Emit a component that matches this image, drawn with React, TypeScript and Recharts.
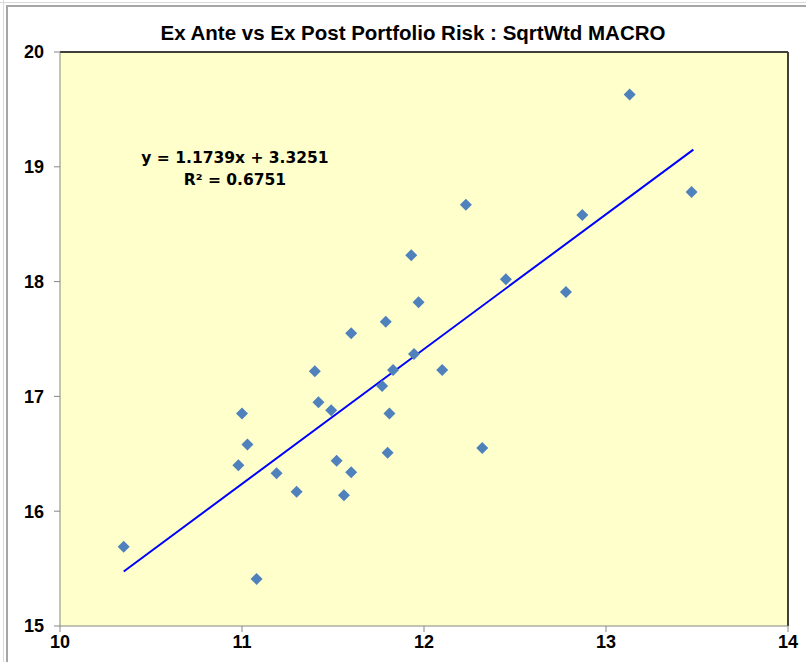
import { ScatterChart, Scatter, XAxis, YAxis, CartesianGrid, ReferenceLine } from "recharts";

// ex ante (x) vs ex post (y) risk
const exAnte = [
  10.35, 11.08, 10.98, 11.0, 11.03, 11.19, 11.3, 11.4, 11.42, 11.49,
  11.52, 11.56, 11.6, 11.6, 11.79, 11.77, 11.81, 11.8, 11.83, 11.93,
  11.945, 11.97, 12.1, 12.23, 12.32, 12.45, 12.78, 12.87, 13.13, 13.47,
];
const exPost = [
  15.69, 15.41, 16.4, 16.85, 16.58, 16.33, 16.17, 17.22, 16.95, 16.88,
  16.44, 16.14, 16.34, 17.55, 17.65, 17.09, 16.85, 16.51, 17.23, 18.23,
  17.37, 17.82, 17.23, 18.67, 16.55, 18.02, 17.91, 18.58, 19.63, 18.78,
];
const xTicks = [10, 11, 12, 13, 14];
const yTicks = [15, 16, 17, 18, 19, 20];
// fitted trend line ends: y = 1.1739x + 3.3251
const trendEnds = [
  { x: 10.35, y: 15.475 },
  { x: 13.48, y: 19.15 },
];

const points = exAnte.map((x, i) => ({ x, y: exPost[i] }));

const Diamond = (props: any) => {
  const { cx, cy } = props;
  const r = 6;
  return (
    <polygon
      points={`${cx},${cy - r} ${cx + r},${cy} ${cx},${cy + r} ${cx - r},${cy}`}
      fill="#4F81BD"
    />
  );
};

const tickStyle = { fontFamily: "Liberation Sans, Arial, sans-serif", fontWeight: 700, fontSize: 18, fill: "#000" };

export default function App() {
  return (
    <div style={{ position: "fixed", left: 0, top: 0, width: 806, height: 662, background: "#fff", overflow: "hidden" }}>
      <div style={{ position: "absolute", left: 0, top: 2, width: 806, height: 0, borderTop: "1px solid #D9D9D9" }} />
      <div style={{ position: "absolute", left: 6, top: 5, width: 800, height: 657, borderTop: "2px solid #A6A6A6", borderLeft: "2px solid #A6A6A6" }} />
      <div style={{ position: "absolute", left: 3, top: 0, width: 0, height: 662, borderLeft: "1px solid #D9D9D9" }} />
      <ScatterChart
        width={806}
        height={662}
        margin={{ top: 52, right: 18, bottom: 0, left: 0 }}
      >
        <CartesianGrid horizontal={false} vertical={false} fill="#FFFFCC" />
        <XAxis
          type="number"
          dataKey="x"
          domain={[10, 14]}
          ticks={xTicks}
          height={36}
          tick={tickStyle}
          tickLine={{ stroke: "#868686" }}
          axisLine={{ stroke: "#868686" }}
          tickSize={6}
          tickMargin={3}
          allowDataOverflow
        />
        <YAxis
          type="number"
          dataKey="y"
          domain={[15, 20]}
          ticks={yTicks}
          width={60}
          tick={tickStyle}
          tickLine={{ stroke: "#868686" }}
          axisLine={{ stroke: "#868686" }}
          tickSize={6}
          tickMargin={10}
          allowDataOverflow
        />
        <ReferenceLine y={20} stroke="#000" strokeWidth={1.5} />
        <ReferenceLine x={14} stroke="#404040" strokeWidth={2} />
        <ReferenceLine
          segment={trendEnds}
          stroke="#0000FF"
          strokeWidth={2}
        />
        <Scatter data={points} shape={<Diamond />} isAnimationActive={false} />
      </ScatterChart>
      <div
        style={{
          position: "absolute",
          left: 49,
          width: 728,
          top: 19,
          textAlign: "center",
          fontFamily: "Liberation Sans, Arial, sans-serif",
          fontWeight: 700,
          fontSize: 20.5,
          color: "#000",
          lineHeight: "28px",
        }}
      >
        Ex Ante vs Ex Post Portfolio Risk : SqrtWtd MACRO
      </div>
      <div
        style={{
          position: "absolute",
          left: 100,
          width: 270,
          top: 147,
          textAlign: "center",
          fontFamily: "DejaVu Sans, Verdana, sans-serif",
          fontWeight: 700,
          fontSize: 15.5,
          color: "#000",
          lineHeight: "22px",
        }}
      >
        <div>y = 1.1739x + 3.3251</div>
        <div>R² = 0.6751</div>
      </div>
    </div>
  );
}
